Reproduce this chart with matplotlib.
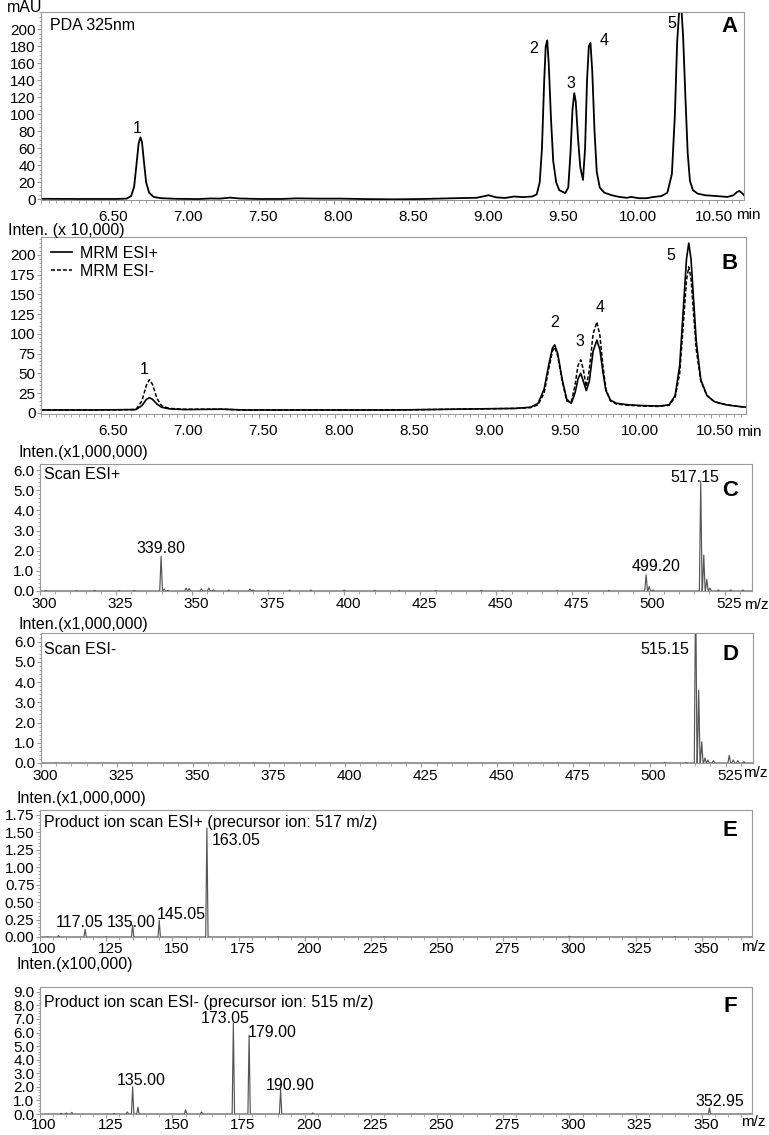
import matplotlib
matplotlib.use('Agg')
import matplotlib.pyplot as plt
import matplotlib.transforms as mtrans
from matplotlib.ticker import MultipleLocator, FormatStrFormatter

plt.rcParams['font.family'] = ['Liberation Sans', 'DejaVu Sans']

# ---------------- data ----------------
# Panel A: PDA 325 nm chromatogram (min, mAU)
A_time = [6.05, 6.30, 6.55, 6.62, 6.65, 6.67, 6.685, 6.70, 6.712, 6.722, 6.735, 6.75, 6.77, 6.80, 6.85,
          6.95, 7.10, 7.18, 7.24, 7.31, 7.37, 7.50, 7.65, 7.75, 7.90, 8.05, 8.20, 8.40, 8.60, 8.80,
          8.95, 9.03, 9.08, 9.14, 9.20, 9.26, 9.32, 9.35, 9.37, 9.385, 9.40, 9.41, 9.42, 9.43, 9.445,
          9.46, 9.48, 9.50, 9.54, 9.56, 9.575, 9.588, 9.60, 9.61, 9.625, 9.64, 9.658, 9.672, 9.685,
          9.697, 9.708, 9.72, 9.735, 9.75, 9.77, 9.80, 9.85, 9.90, 9.95, 9.98, 10.03, 10.08, 10.13,
          10.18, 10.22, 10.25, 10.27, 10.285, 10.30, 10.313, 10.325, 10.34, 10.355, 10.37, 10.39,
          10.42, 10.47, 10.55, 10.62, 10.66, 10.685, 10.70, 10.72, 10.73]
A_signal = [0.8, 0.6, 0.6, 1.0, 4, 15, 40, 66, 73, 68, 45, 20, 8, 3, 1.5,
            0.8, 0.5, 1.2, 1.0, 2.2, 1.2, 0.6, 0.6, 1.3, 1.0, 1.0, 0.5, 0.2, 0.6, 1.5,
            2.0, 5.0, 2.5, 1.8, 3.5, 2.8, 3.5, 6, 20, 60, 140, 180, 187, 160, 95,
            45, 20, 11, 7.5, 14, 55, 105, 125, 115, 72, 38, 23, 60, 140,
            180, 184, 150, 80, 32, 14, 8, 5, 3, 2, 3, 1.5, 1.5, 3,
            4, 8, 30, 100, 185, 226, 226, 190, 120, 55, 22, 11,
            7, 5, 4, 3, 5, 9, 10, 7, 5]
A_peak_t = [6.712, 9.42, 9.588, 9.708, 10.313]
A_peak_h = [73, 187, 125, 184, 220]
A_peak_lab = ['1', '2', '3', '4', '5']

# Panel B: MRM chromatograms (min, x10,000)
B_time = [6.05, 6.40, 6.68, 6.72, 6.75, 6.77, 6.79, 6.82, 6.85, 6.90, 7.00, 7.25, 7.40, 7.60, 8.00,
          8.40, 8.80, 9.00, 9.20, 9.30, 9.35, 9.39, 9.42, 9.445, 9.46, 9.48, 9.51, 9.54, 9.57,
          9.595, 9.615, 9.633, 9.65, 9.67, 9.69, 9.715, 9.74, 9.76, 9.78, 9.80, 9.83, 9.87, 9.95,
          10.05, 10.15, 10.22, 10.26, 10.29, 10.315, 10.335, 10.35, 10.365, 10.38, 10.40, 10.43,
          10.47, 10.52, 10.60, 10.68, 10.73]
B_esi_pos = [3.5, 3.5, 4, 9, 17, 19, 17, 11, 7, 5, 4, 4.5, 3.5, 3.5, 3.5,
             3.5, 4.5, 5, 5.5, 7, 12, 30, 60, 82, 86, 75, 42, 17, 12,
             25, 43, 50, 40, 28, 40, 78, 92, 80, 52, 28, 16, 12, 10,
             9, 8.5, 10, 22, 60, 135, 195, 215, 195, 150, 90, 42,
             22, 14, 10, 8, 7]
B_esi_neg = [3.5, 3.5, 4, 15, 35, 42, 36, 18, 9, 5.5, 4.5, 4.5, 3.5, 3.5, 3.5,
             3.5, 4.5, 5, 5.5, 6.5, 10, 25, 55, 78, 83, 72, 40, 15, 13,
             35, 60, 67, 55, 33, 55, 100, 115, 98, 60, 30, 15, 11, 9.5,
             8.5, 8, 9.5, 20, 50, 115, 168, 185, 170, 130, 80, 40,
             22, 14, 10, 8, 7]
B_peak_t = [6.77, 9.46, 9.633, 9.74, 10.35]
B_peak_h = [42, 86, 67, 115, 215]
B_peak_lab = ['1', '2', '3', '4', '5']

# Panel C: Scan ESI+ (m/z, x1,000,000)
C_mz = [302, 312, 318, 326, 331, 339.8, 340.8, 342, 348, 349, 353, 355.5, 357, 362, 369, 370,
        375, 382, 389, 400, 410, 418, 430, 445, 452, 470, 487, 499.2, 500.2, 501.5, 517.15,
        518.15, 519.15, 520.2, 523, 527, 531]
C_int = [0.02, 0.02, 0.03, 0.02, 0.03, 1.72, 0.10, 0.03, 0.15, 0.12, 0.10, 0.15, 0.06, 0.05, 0.10,
         0.05, 0.03, 0.04, 0.05, 0.04, 0.03, 0.02, 0.03, 0.03, 0.02, 0.02, 0.03, 0.80, 0.22, 0.05,
         5.45, 1.78, 0.58, 0.15, 0.05, 0.06, 0.05]

# Panel D: Scan ESI- (m/z, x1,000,000)
D_mz = [305, 330, 370, 420, 470, 505, 512, 515.15, 516.15, 517.15, 518.2, 519.2, 521, 526.2,
        527.5, 529, 531]
D_int = [0.01, 0.01, 0.01, 0.01, 0.01, 0.02, 0.03, 8.8, 3.6, 1.05, 0.25, 0.15, 0.12, 0.38,
         0.15, 0.12, 0.06]

# Panel E: product ion scan ESI+ (m/z, x1,000,000)
E_mz = [103, 107, 117.05, 125, 135.0, 145.05, 163.05, 190, 230, 300, 340]
E_int = [0.005, 0.02, 0.11, 0.005, 0.17, 0.24, 1.56, 0.005, 0.005, 0.01, 0.005]

# Panel F: product ion scan ESI- (m/z, x100,000)
F_mz = [108, 110, 112, 128, 133, 135.0, 137, 155, 161, 173.05, 179.0, 190.9, 203, 352.95]
F_int = [0.05, 0.08, 0.12, 0.05, 0.15, 2.0, 0.5, 0.3, 0.15, 6.7, 5.8, 1.8, 0.08, 0.45]

# ---------------- figure ----------------
W, H = 769, 1135
fig = plt.figure(figsize=(W / 100, H / 100), dpi=100)
FS = 11.5
TFS = 11


def rect(l, r, t, b):
    return [l / W, 1 - b / H, (r - l) / W, (b - t) / H]


def ftext(x, y, s, **kw):
    kw.setdefault('fontsize', FS)
    kw.setdefault('va', 'center')
    fig.text(x / W, 1 - y / H, s, **kw)


SPINE = '#9a9a9a'
XSHIFT = mtrans.ScaledTranslation(4 / 100, 0, fig.dpi_scale_trans)


def style(ax, xpad=3):
    for s in ax.spines.values():
        s.set_color(SPINE)
        s.set_linewidth(0.8)
    ax.tick_params(which='both', direction='out', colors=SPINE, labelcolor='black',
                   labelsize=TFS, top=False, right=False)
    ax.tick_params(which='major', length=3)
    ax.tick_params(which='minor', length=1.8)
    ax.tick_params(axis='y', pad=1)
    ax.tick_params(axis='x', pad=xpad)
    for lab in ax.get_xticklabels():
        lab.set_transform(lab.get_transform() + XSHIFT)


def profile(mz, inten, xmin, xmax, hw=0.45):
    xs, ys = [xmin], [0]
    for m, h in sorted(zip(mz, inten)):
        xs += [m - hw, m, m + hw]
        ys += [0, h, 0]
    xs.append(xmax)
    ys.append(0)
    return xs, ys


TIME_TICKS = [6.5, 7.0, 7.5, 8.0, 8.5, 9.0, 9.5, 10.0, 10.5]

# ---- Panel A ----
axA = fig.add_axes(rect(41, 744, 12, 200))
axA.plot(A_time, A_signal, color='black', lw=1.3)
axA.set_xlim(6.05, 10.73)
axA.set_ylim(-0.6, 220.3)
axA.set_xticks(TIME_TICKS)
axA.xaxis.set_minor_locator(MultipleLocator(0.05))
axA.xaxis.set_major_formatter(FormatStrFormatter('%.2f'))
axA.set_yticks(list(range(0, 201, 20)))
axA.yaxis.set_minor_locator(MultipleLocator(5))
style(axA, xpad=4.5)
A_offsets = [(-3, 9), (-14, -8), (-2, 10), (14, 2), (-10, -11)]
for t, h, lab, off in zip(A_peak_t, A_peak_h, A_peak_lab, A_offsets):
    axA.annotate(lab, xy=(t, h), xytext=off, textcoords='offset pixels',
                 ha='center', va='center', fontsize=FS)
ftext(7, 8, 'mAU')
ftext(50, 25, 'PDA 325nm')
ftext(730, 27, 'A', fontsize=16, fontweight='bold', ha='center')
ftext(736, 215, 'min', fontsize=TFS)

# ---- Panel B ----
axB = fig.add_axes(rect(41, 746, 237, 414))
axB.plot(B_time, B_esi_pos, color='black', lw=1.2, label='MRM ESI+')
axB.plot(B_time, B_esi_neg, color='black', lw=1.1, ls=(0, (2.6, 1.3)), label='MRM ESI-')
axB.set_xlim(6.05, 10.73)
axB.set_ylim(-1.6, 222.8)
axB.set_xticks(TIME_TICKS)
axB.xaxis.set_minor_locator(MultipleLocator(0.05))
axB.xaxis.set_major_formatter(FormatStrFormatter('%.2f'))
axB.set_yticks(list(range(0, 201, 25)))
axB.yaxis.set_minor_locator(MultipleLocator(5))
style(axB, xpad=4.5)
B_offsets = [(-5, 10), (0, 22), (-1, 18), (3, 15), (-18, -12)]
for t, h, lab, off in zip(B_peak_t, B_peak_h, B_peak_lab, B_offsets):
    axB.annotate(lab, xy=(t, h), xytext=off, textcoords='offset pixels',
                 ha='center', va='center', fontsize=FS)
axB.legend(loc='upper left', bbox_to_anchor=(0.014, 0.95), frameon=False, fontsize=FS,
           handlelength=1.3, handletextpad=0.5, labelspacing=0.2, borderaxespad=0,
           borderpad=0)
ftext(8, 231, 'Inten. (x 10,000)')
ftext(730, 263, 'B', fontsize=16, fontweight='bold', ha='center')
ftext(737, 432, 'min', fontsize=TFS)

# ---- spectra panels ----
SPEC = '#555555'


def spectrum(box, mz, inten, xlim, ylim, yticks, yminor, yfmt, xticks, xpad):
    ax = fig.add_axes(rect(*box))
    xs, ys = profile(mz, inten, xlim[0], xlim[1])
    ax.plot(xs, ys, color=SPEC, lw=0.85)
    ax.set_xlim(*xlim)
    ax.set_ylim(*ylim)
    ax.set_xticks(xticks)
    ax.xaxis.set_minor_locator(MultipleLocator(5))
    ax.set_yticks(yticks)
    ax.yaxis.set_minor_locator(MultipleLocator(yminor))
    ax.yaxis.set_major_formatter(FormatStrFormatter(yfmt))
    style(ax, xpad=xpad)
    return ax


MZ_TICKS_HI = list(range(300, 526, 25))
MZ_TICKS_LO = list(range(100, 351, 25))

# C
axC = spectrum((40, 752, 464, 591), C_mz, C_int, (300, 534), (0, 6.3),
               [0, 1, 2, 3, 4, 5, 6], 0.2, '%.1f', MZ_TICKS_HI, 1.5)
axC.annotate('339.80', xy=(339.8, 1.72), xytext=(0, 8), textcoords='offset pixels',
             ha='center', va='center', fontsize=FS)
axC.annotate('499.20', xy=(499.2, 0.80), xytext=(10, 8), textcoords='offset pixels',
             ha='center', va='center', fontsize=FS)
axC.annotate('517.15', xy=(517.15, 5.45), xytext=(-6, 4), textcoords='offset pixels',
             ha='center', va='center', fontsize=FS)
ftext(18, 453, 'Inten.(x1,000,000)')
ftext(44, 475, 'Scan ESI+')
ftext(730, 490, 'C', fontsize=16, fontweight='bold', ha='center')
ftext(744, 605, 'm/z', fontsize=TFS)

# D
axD = spectrum((41, 753, 633, 763), D_mz, D_int, (300, 534), (0, 6.43),
               [0, 1, 2, 3, 4, 5, 6], 0.2, '%.1f', MZ_TICKS_HI, 1.5)
axD.annotate('515.15', xy=(515.15, 1.0), xycoords=('data', 'axes fraction'),
             xytext=(-6, -17), textcoords='offset pixels', ha='right', va='center', fontsize=FS)
ftext(19, 625, 'Inten.(x1,000,000)')
ftext(44, 650, 'Scan ESI-')
ftext(730, 655, 'D', fontsize=16, fontweight='bold', ha='center')
ftext(743, 773, 'm/z', fontsize=TFS)

# E
axE = spectrum((40, 752, 810, 937), E_mz, E_int, (100, 369), (0, 1.82),
               [0, 0.25, 0.5, 0.75, 1.0, 1.25, 1.5, 1.75], 0.05, '%.2f', MZ_TICKS_LO, 0.5)
E_lab = [('117.05', 117.05, 0.11, (-6, 7), 'center'),
         ('135.00', 135.0, 0.17, (-1, 3), 'center'),
         ('145.05', 145.05, 0.24, (-2, 6), 'left'),
         ('163.05', 163.05, 1.56, (5, -12), 'left')]
for s, m, h, off, ha in E_lab:
    axE.annotate(s, xy=(m, h), xytext=off, textcoords='offset pixels',
                 ha=ha, va='center', fontsize=FS)
ftext(17, 798, 'Inten.(x1,000,000)')
ftext(44, 823, 'Product ion scan ESI+ (precursor ion: 517 m/z)')
ftext(730, 830, 'E', fontsize=16, fontweight='bold', ha='center')
ftext(741, 947, 'm/z', fontsize=TFS)

# F
axF = spectrum((40, 752, 987, 1114), F_mz, F_int, (100, 369), (0, 9.35),
               [0, 1, 2, 3, 4, 5, 6, 7, 8, 9], 0.2, '%.1f', MZ_TICKS_LO, 0)
F_lab = [('135.00', 135.0, 2.0, (9, 6), 'center'),
         ('173.05', 173.05, 6.7, (-8, 4), 'center'),
         ('179.00', 179.0, 5.8, (-1, 3), 'left'),
         ('190.90', 190.9, 1.8, (10, 4), 'center'),
         ('352.95', 352.95, 0.45, (10, 6), 'center')]
for s, m, h, off, ha in F_lab:
    axF.annotate(s, xy=(m, h), xytext=off, textcoords='offset pixels',
                 ha=ha, va='center', fontsize=FS)
ftext(17, 965, 'Inten.(x100,000)')
ftext(44, 1002, 'Product ion scan ESI- (precursor ion: 515 m/z)')
ftext(730, 1007, 'F', fontsize=16, fontweight='bold', ha='center')
ftext(741, 1122, 'm/z', fontsize=TFS)

fig.savefig('out.png', dpi=100)
